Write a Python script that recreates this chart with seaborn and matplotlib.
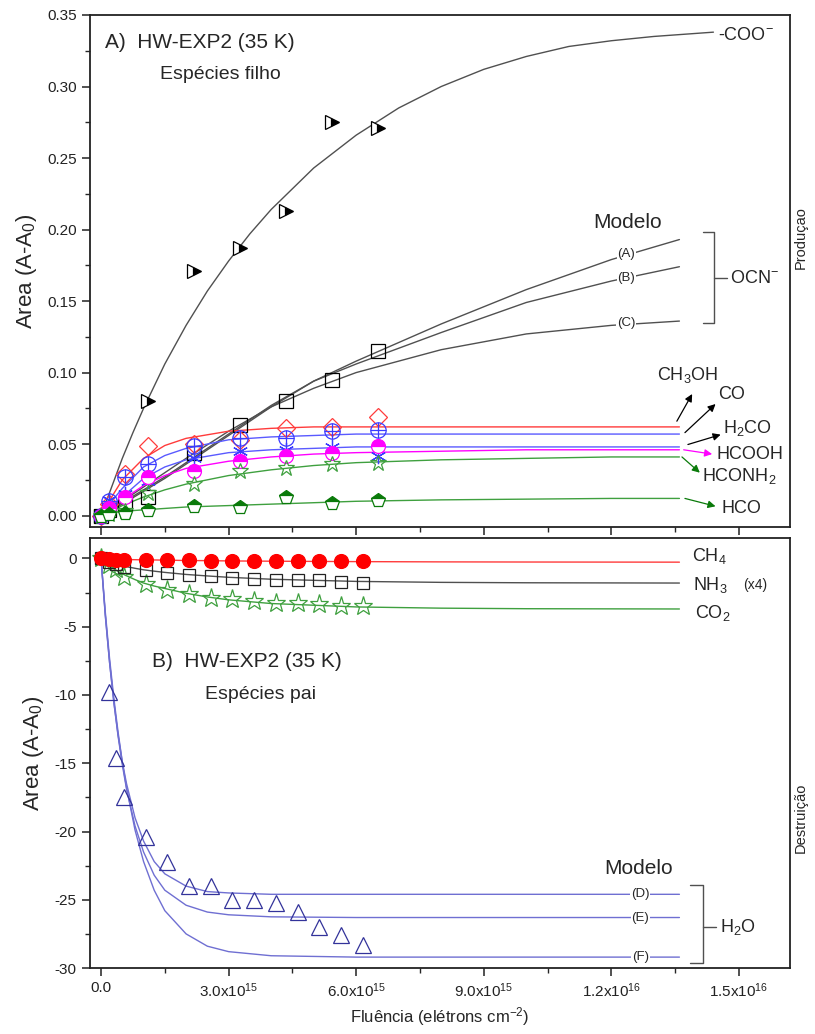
import matplotlib
matplotlib.use('Agg')
import matplotlib.pyplot as plt
import seaborn as sns
from matplotlib.ticker import MultipleLocator, FixedLocator, FixedFormatter

sns.set_style('ticks')
plt.rcParams['font.family'] = ['Liberation Sans', 'DejaVu Sans']
plt.rcParams['mathtext.fontset'] = 'custom'
plt.rcParams['mathtext.rm'] = 'Liberation Sans'
plt.rcParams['mathtext.it'] = 'Liberation Sans:italic'
plt.rcParams['axes.unicode_minus'] = False

# ---- data: fluence in units of 1e15 electrons cm-2 ----
# panel A (daughter species)
x_top = [0, 0.19, 0.56, 1.11, 2.19, 3.27, 4.36, 5.44, 6.52]
x_coo = [0, 1.11, 2.19, 3.27, 4.36, 5.44, 6.52]
coo = [0, 0.080, 0.171, 0.187, 0.213, 0.275, 0.271]
ch3oh = [0, 0.008, 0.029, 0.049, 0.050, 0.053, 0.061, 0.062, 0.069]
co = [0, 0.010, 0.027, 0.036, 0.049, 0.054, 0.054, 0.059, 0.060]
h2co = [0, 0.011, 0.015, 0.024, 0.040, 0.045, 0.046, 0.048, 0.042]
hcooh = [0, 0.005, 0.013, 0.027, 0.031, 0.038, 0.042, 0.044, 0.049]
hconh2 = [0, 0.001, 0.003, 0.016, 0.022, 0.031, 0.033, 0.036, 0.037]
hco = [0, 0.001, 0.002, 0.004, 0.007, 0.006, 0.013, 0.009, 0.011]
ocn = [0, 0.004, 0.008, 0.013, 0.044, 0.063, 0.080, 0.095, 0.115]

# model curves panel A
fit_x = [0, 0.25, 0.5, 1, 1.5, 2, 3, 4, 5, 6, 8, 10, 12, 13.6]
fit_ch3oh = [0, 0.013, 0.025, 0.040, 0.049, 0.054, 0.059, 0.061, 0.062, 0.062, 0.062, 0.062, 0.062, 0.062]
fit_co = [0, 0.010, 0.019, 0.034, 0.042, 0.047, 0.053, 0.055, 0.056, 0.057, 0.057, 0.057, 0.057, 0.057]
fit_h2co = [0, 0.006, 0.013, 0.026, 0.034, 0.039, 0.044, 0.046, 0.047, 0.048, 0.048, 0.048, 0.048, 0.048]
fit_hcooh = [0, 0.005, 0.011, 0.021, 0.028, 0.033, 0.038, 0.041, 0.043, 0.044, 0.045, 0.046, 0.046, 0.046]
fit_hconh2 = [0, 0.003, 0.007, 0.013, 0.018, 0.022, 0.028, 0.032, 0.035, 0.037, 0.039, 0.040, 0.041, 0.041]
fit_hco = [0, 0.002, 0.003, 0.004, 0.005, 0.006, 0.007, 0.008, 0.009, 0.010, 0.011, 0.0115, 0.012, 0.012]
fit_ocn_a = [0, 0.004, 0.008, 0.017, 0.026, 0.036, 0.056, 0.076, 0.094, 0.108, 0.134, 0.158, 0.179, 0.193]
fit_ocn_b = [0, 0.0045, 0.009, 0.018, 0.027, 0.037, 0.057, 0.077, 0.094, 0.106, 0.128, 0.149, 0.164, 0.174]
fit_ocn_c = [0, 0.005, 0.010, 0.020, 0.030, 0.040, 0.059, 0.076, 0.089, 0.100, 0.116, 0.127, 0.133, 0.136]
fit_coo_x = [0, 0.25, 0.5, 0.75, 1, 1.5, 2, 2.5, 3, 3.5, 4, 5, 6, 7, 8, 9, 10, 11, 12, 13, 14.4]
fit_coo = [0, 0.020, 0.040, 0.058, 0.075, 0.106, 0.133, 0.157, 0.178, 0.197, 0.214, 0.243, 0.266,
           0.285, 0.300, 0.312, 0.321, 0.328, 0.332, 0.335, 0.338]

# panel B (parent species)
x_bot = [0, 0.18, 0.36, 0.54, 1.05, 1.56, 2.07, 2.58, 3.09, 3.60, 4.11, 4.62, 5.13, 5.64, 6.15]
ch4 = [0, -0.05, -0.08, -0.10, -0.12, -0.13, -0.14, -0.15, -0.15, -0.16, -0.17, -0.17, -0.18, -0.18, -0.19]
nh3 = [0, -0.27, -0.39, -0.63, -0.88, -1.07, -1.20, -1.32, -1.41, -1.49, -1.61, -1.61, -1.61, -1.73, -1.80]
co2 = [0, -0.51, -0.76, -1.36, -1.90, -2.34, -2.63, -2.90, -3.00, -3.12, -3.24, -3.27, -3.31, -3.46, -3.51]
x_h2o = [0.18, 0.36, 0.54, 1.05, 1.56, 2.07, 2.58, 3.09, 3.60, 4.11, 4.62, 5.13, 5.64, 6.15]
h2o = [-9.8, -14.6, -17.5, -20.4, -22.2, -24.0, -24.0, -25.0, -25.0, -25.2, -25.9, -27.0, -27.6, -28.3]

bfit_x = [0, 0.1, 0.2, 0.3, 0.4, 0.5, 0.6, 0.8, 1.0, 1.25, 1.5, 2, 2.5, 3, 4, 6, 8, 10, 13.6]
fit_ch4 = [0, -0.02, -0.04, -0.05, -0.06, -0.07, -0.08, -0.09, -0.10, -0.11, -0.12, -0.15, -0.16, -0.18, -0.20, -0.23, -0.25, -0.26, -0.27]
fit_nh3 = [0, -0.12, -0.24, -0.35, -0.45, -0.54, -0.60, -0.72, -0.83, -0.93, -1.02, -1.17, -1.28, -1.38, -1.52, -1.68, -1.75, -1.78, -1.80]
fit_co2 = [0, -0.28, -0.53, -0.75, -0.95, -1.12, -1.27, -1.55, -1.80, -2.02, -2.20, -2.55, -2.82, -3.03, -3.30, -3.55, -3.64, -3.68, -3.70]
fit_h2o_d = [0, -4.2, -7.6, -10.5, -12.9, -14.9, -16.5, -19.0, -20.7, -22.2, -23.1, -24.0, -24.4, -24.5, -24.6, -24.6, -24.6, -24.6, -24.6]
fit_h2o_e = [0, -4.1, -7.6, -10.5, -13.0, -15.1, -16.9, -19.6, -21.5, -23.2, -24.3, -25.4, -25.9, -26.1, -26.25, -26.3, -26.3, -26.3, -26.3]
fit_h2o_f = [0, -3.9, -7.3, -10.2, -12.7, -14.9, -16.8, -19.9, -22.2, -24.3, -25.8, -27.5, -28.4, -28.8, -29.1, -29.2, -29.2, -29.2, -29.2]

xtick_vals = [0, 3, 6, 9, 12, 15]
xtick_labels = ['0.0', '3.0x10$^{15}$', '6.0x10$^{15}$', '9.0x10$^{15}$',
                '1.2x10$^{16}$', '1.5x10$^{16}$']

RED = '#ff3b3b'
BLUE = '#3b3bff'
MAG = '#ff00ff'
GREEN = '#3fa03f'
DGREEN = '#0a7a0a'
GRAY = '#505050'
NAVY = '#33339a'
H2OLINE = '#6f6fd2'


def pts(ax, x, y, color, marker, ms=9.5, face='none', **kw):
    sns.lineplot(x=x, y=y, ax=ax, linestyle='none', marker=marker,
                 markersize=ms, markerfacecolor=face, markeredgecolor=color,
                 markeredgewidth=0.9, color=color, errorbar=None, **kw)


def line(ax, x, y, color, lw=1.0):
    sns.lineplot(x=x, y=y, ax=ax, color=color, linewidth=lw, errorbar=None)


fig = plt.figure(figsize=(8.15, 10.34), dpi=100)
ax1 = fig.add_axes([0.1104, 0.4903, 0.8589, 0.4952])
ax2 = fig.add_axes([0.1104, 0.0638, 0.8589, 0.4159])

# ---------------- panel A ----------------
line(ax1, fit_coo_x, fit_coo, GRAY)
line(ax1, fit_x, fit_ocn_a, GRAY)
line(ax1, fit_x, fit_ocn_b, GRAY)
line(ax1, fit_x, fit_ocn_c, GRAY)
line(ax1, fit_x, fit_ch3oh, RED)
line(ax1, fit_x, fit_co, '#5a5aff')
line(ax1, fit_x, fit_h2co, '#5a5aff')
line(ax1, fit_x, fit_hcooh, MAG)
line(ax1, fit_x, fit_hconh2, GREEN)
line(ax1, fit_x, fit_hco, GREEN)

pts(ax1, x_coo, coo, 'black', '>', face='black', fillstyle='right',
    markerfacecoloralt='white')
pts(ax1, x_top, ocn, 'black', 's')
pts(ax1, x_top, ch3oh, RED, 'D', ms=9)
pts(ax1, x_top, co, BLUE, 'o', ms=11)
pts(ax1, x_top, co, BLUE, '+', ms=11)
pts(ax1, x_top, h2co, BLUE, (6, 2, 0), ms=11)
pts(ax1, x_top, hcooh, MAG, 'o', ms=10, face=MAG, fillstyle='top',
    markerfacecoloralt='white')
pts(ax1, x_top, hconh2, GREEN, '*', ms=12)
pts(ax1, x_top, hco, DGREEN, 'p', ms=10, face=DGREEN, fillstyle='top',
    markerfacecoloralt='white')

ax1.text(0.021, 0.947, 'A)  HW-EXP2 (35 K)', transform=ax1.transAxes,
         fontsize=15, va='center')
ax1.text(0.186, 0.883, 'Espécies filho', transform=ax1.transAxes,
         fontsize=14, ha='center', va='center')
ax1.text(15.16, 0.336, '-COO$^{-}$', fontsize=13, ha='center', va='center')
ax1.text(12.37, 0.205, 'Modelo', fontsize=15, ha='center', va='center')
for lab, yy in [('(A)', 0.183), ('(B)', 0.166), ('(C)', 0.135)]:
    ax1.text(12.35, yy, lab, fontsize=9.5, ha='center', va='center',
             bbox=dict(fc='white', ec='none', pad=0.6))
ax1.plot([14.15, 14.41, 14.41, 14.15], [0.198, 0.198, 0.135, 0.135],
         color=GRAY, lw=1.0)
ax1.plot([14.41, 14.72], [0.166, 0.166], color=GRAY, lw=1.0)
ax1.text(14.8, 0.166, 'OCN$^{-}$', fontsize=13, va='center')

arrows = [
    ('CH$_3$OH', (13.54, 0.066), (13.9, 0.085), (13.8, 0.0986), 'black'),
    ('CO', (13.73, 0.058), (14.45, 0.078), (14.83, 0.085), 'black'),
    ('H$_2$CO', (13.8, 0.0497), (14.57, 0.0566), (15.2, 0.0615), 'black'),
    ('HCOOH', (13.7, 0.046), (14.37, 0.043), (15.27, 0.043), MAG),
    ('HCONH$_2$', (13.66, 0.041), (14.08, 0.030), (15.0, 0.0275), DGREEN),
    ('HCO', (13.73, 0.012), (14.45, 0.0065), (15.06, 0.005), DGREEN),
]
for lab, p0, p1, pt, c in arrows:
    ax1.annotate('', xy=p1, xytext=p0,
                 arrowprops=dict(arrowstyle='-|>', color=c, lw=0.9,
                                 mutation_scale=11, shrinkA=0, shrinkB=0))
    ax1.text(pt[0], pt[1], lab, fontsize=13, ha='center', va='center')

ax1.set_ylim(-0.008, 0.35)
ax1.yaxis.set_major_locator(MultipleLocator(0.05))
ax1.yaxis.set_minor_locator(MultipleLocator(0.025))
ax1.yaxis.set_major_formatter(plt.FormatStrFormatter('%.2f'))
ax1.tick_params(labelbottom=False)

# ---------------- panel B ----------------
line(ax2, bfit_x, fit_ch4, RED)
line(ax2, bfit_x, fit_nh3, GRAY)
line(ax2, bfit_x, fit_co2, GREEN)
line(ax2, bfit_x, fit_h2o_d, H2OLINE)
line(ax2, bfit_x, fit_h2o_e, H2OLINE)
line(ax2, bfit_x, fit_h2o_f, H2OLINE)

pts(ax2, x_h2o, h2o, NAVY, '^', ms=12)
pts(ax2, x_bot, co2, GREEN, '*', ms=14)
pts(ax2, x_bot, nh3, '#222222', 's', ms=9)
pts(ax2, x_bot, ch4, '#ff0000', 'o', ms=10, face='#ff0000')

ax2.text(13.9, 0.2, 'CH$_4$', fontsize=13, va='center')
ax2.text(13.93, -1.98, 'NH$_3$', fontsize=13, va='center')
ax2.text(15.1, -1.98, '(x4)', fontsize=10, va='center')
ax2.text(13.96, -4.0, 'CO$_2$', fontsize=13, va='center')
ax2.text(0.089, 0.712, 'B)  HW-EXP2 (35 K)', transform=ax2.transAxes,
         fontsize=15, va='center')
ax2.text(0.243, 0.635, 'Espécies pai', transform=ax2.transAxes,
         fontsize=14, ha='center', va='center')
ax2.text(12.64, -22.7, 'Modelo', fontsize=15, ha='center', va='center')
for lab, yy in [('(D)', -24.6), ('(E)', -26.3), ('(F)', -29.2)]:
    ax2.text(12.68, yy, lab, fontsize=9.5, ha='center', va='center',
             bbox=dict(fc='white', ec='none', pad=0.6))
ax2.plot([13.86, 14.16, 14.16, 13.86], [-23.9, -23.9, -29.65, -29.65],
         color=GRAY, lw=1.0)
ax2.plot([14.16, 14.45], [-27.0, -27.0], color=GRAY, lw=1.0)
ax2.text(14.55, -27.0, 'H$_2$O', fontsize=13, va='center')

ax2.set_ylim(-30, 1.5)
ax2.yaxis.set_major_locator(MultipleLocator(5))
ax2.yaxis.set_minor_locator(MultipleLocator(2.5))

for ax in (ax1, ax2):
    ax.set_xlim(-0.26, 16.2)
    ax.xaxis.set_major_locator(FixedLocator(xtick_vals))
    ax.xaxis.set_minor_locator(MultipleLocator(1.5))
    ax.set_xlabel('')
    ax.set_ylabel('Area (A-A$_0$)', fontsize=16, labelpad=6)
    ax.tick_params(which='major', direction='out', length=6, width=1.1,
                   labelsize=11, colors='#222222')
    ax.tick_params(which='minor', direction='out', length=3.5, width=1.0)
    for sp in ax.spines.values():
        sp.set_visible(True)
        sp.set_linewidth(1.3)
        sp.set_color('#222222')

ax2.xaxis.set_major_formatter(FixedFormatter(xtick_labels))
ax2.set_xlabel('Fluência (elétrons cm$^{-2}$)', fontsize=12, labelpad=4)

fig.text(0.983, 0.770, 'Produçao', rotation=90, fontsize=10.5,
         ha='center', va='center')
fig.text(0.983, 0.209, 'Destruição', rotation=90, fontsize=10.5,
         ha='center', va='center')

fig.savefig('out.png', dpi=100)
